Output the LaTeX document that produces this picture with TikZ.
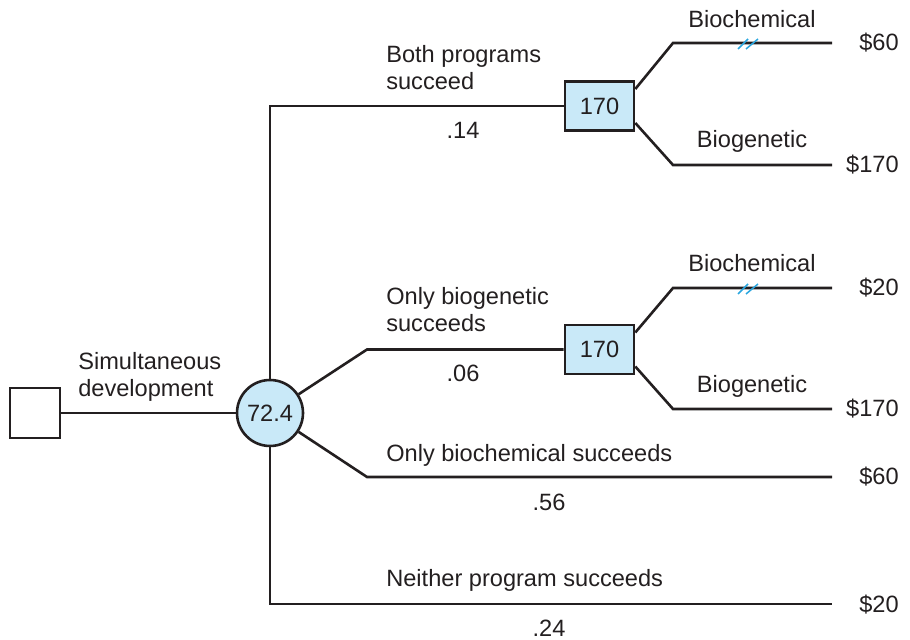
\documentclass[tikz,border=0pt]{standalone}
\usepackage{fontspec}
\setmainfont{Liberation Sans}
\usepackage{tikz}

\definecolor{ink}{HTML}{231F20}
\definecolor{nodefill}{HTML}{C9E9F8}
\definecolor{cutblue}{HTML}{2AA6DF}

\begin{document}
\begin{tikzpicture}[x=0.5pt,y=-0.5pt,line width=1.3pt,draw=ink,
  every node/.style={font=\fontsize{11.8}{13.5}\selectfont,text=ink,inner sep=0pt},
  decision/.style={draw,rectangle,line width=1.3pt,minimum width=34.5pt,minimum height=24.5pt},
  chance/.style={draw,circle,line width=1.3pt,fill=nodefill,minimum size=33pt},
  cut/.style={cutblue,line width=0.75pt}]
\useasboundingbox (0,0) rectangle (910,640);
\node[decision,minimum width=25pt,minimum height=25pt] (root) at (35,413) {};
\node[chance] (c) at (270,413) {72.4};
\node[decision,fill=nodefill] (b1) at (599.5,106) {170};
\node[decision,fill=nodefill] (b2) at (599.5,349.5) {170};
\coordinate (k2) at (367,349.5) ;
\coordinate (k3) at (367,477) ;
\coordinate (e3) at (832,477) ;
\coordinate (e4) at (832,604) ;
\coordinate (u1) at (673,43) ;
\coordinate (v1) at (832,43) ;
\coordinate (l1) at (673,165) ;
\coordinate (w1) at (832,165) ;
\coordinate (u2) at (673,288) ;
\coordinate (v2) at (832,288) ;
\coordinate (l2) at (673,409) ;
\coordinate (w2) at (832,409) ;
\draw (root) -- (c) ;
\draw (c) |- (b1) ;
\draw (c) -- (k2) -- (b2) ;
\draw (c) -- (k3) -- (e3) ;
\draw (c) |- (e4) ;
\draw ([yshift=8.5pt]b1.east) -- (u1) -- (v1) ;
\draw ([yshift=-8.5pt]b1.east) -- (l1) -- (w1) ;
\draw ([yshift=8.5pt]b2.east) -- (u2) -- (v2) ;
\draw ([yshift=-8.5pt]b2.east) -- (l2) -- (w2) ;
\draw[cut] (u1) ++(65,6) -- ++(10,-10) ++(-2,10) -- ++(12,-10) ;
\draw[cut] (u2) ++(65,6) -- ++(10,-10) ++(-2,10) -- ++(12,-10) ;
\begin{scope}[every node/.append style={anchor=base west,align=left}]
\node (tsim) at (77,397) {Simultaneous\\development} ;
\node (tboth) at (385,90) {Both programs\\succeed} ;
\node (tgen) at (385,332) {Only biogenetic\\succeeds} ;
\node (tchem) at (385,462) {Only biochemical succeeds} ;
\node (tnone) at (385,587) {Neither program succeeds} ;
\end{scope}
\begin{scope}[every node/.append style={anchor=base}]
\node (q1) at (463,139) {.14} ;
\node (q2) at (463,382) {.06} ;
\node (q3) at (549,511) {.56} ;
\node (q4) at (549,636) {.24} ;
\node (s1) at (752,28) {Biochemical} ;
\node (g1) at (752,148) {Biogenetic} ;
\node (s2) at (752,272) {Biochemical} ;
\node (g2) at (752,393) {Biogenetic} ;
\end{scope}
\begin{scope}[every node/.append style={anchor=base east}]
\node (p1) at (900,51) {\$60} ;
\node (p2) at (900,173) {\$170} ;
\node (p3) at (900,296) {\$20} ;
\node (p4) at (900,417) {\$170} ;
\node (p5) at (900,485) {\$60} ;
\node (p6) at (900,612) {\$20} ;
\end{scope}
\end{tikzpicture}
\end{document}
